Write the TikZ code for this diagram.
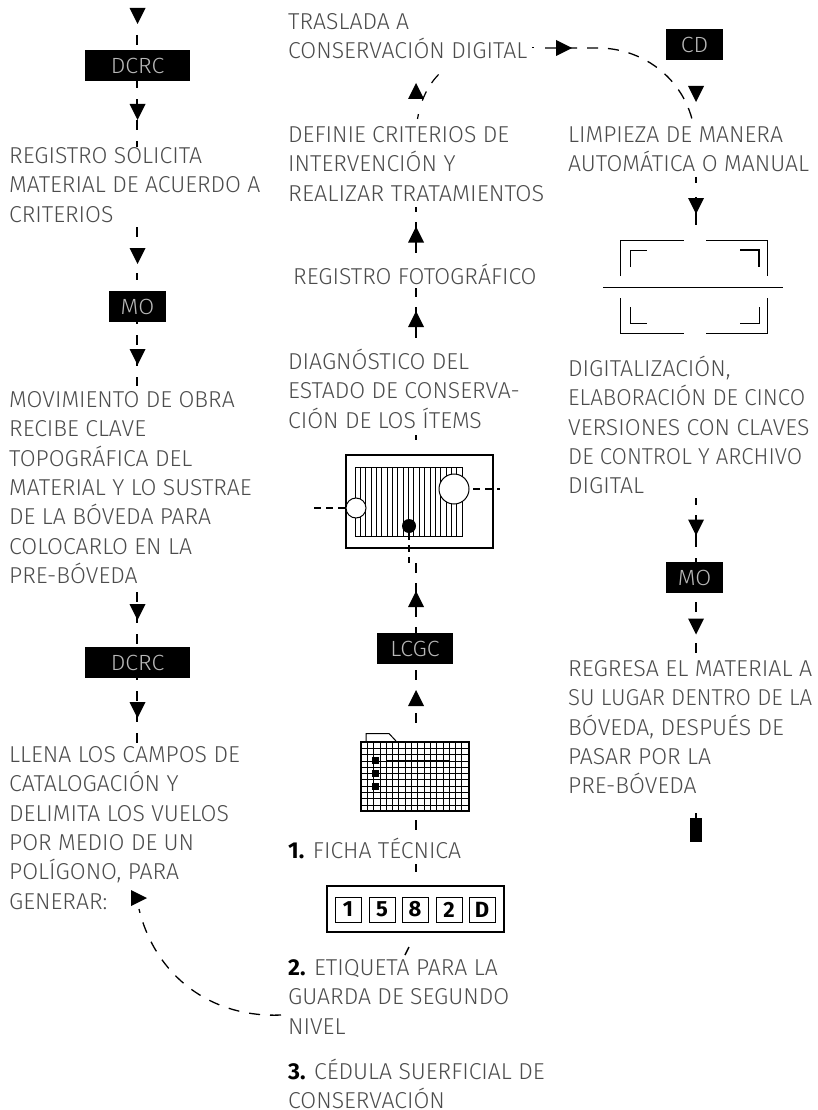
\documentclass[tikz,border=0pt]{standalone}
\usepackage{fontspec}
\usepackage{graphicx}
\setmainfont{Fira Sans}[UprightFont=* Light,BoldFont=* Bold]
\newfontfamily\tagfont{Fira Sans}[UprightFont=* Light,FakeStretch=1.05]
\definecolor{tx}{gray}{0.3}
\newcommand\arrD[3]{\coordinate (#1) at (#2,#3);\fill (#2-8,#3-8) -- (#2+8,#3-8) -- (#2,#3+8) -- cycle;}
\newcommand\arrU[3]{\coordinate (#1) at (#2,#3);\fill (#2-8,#3+8) -- (#2+8,#3+8) -- (#2,#3-8) -- cycle;}
\newcommand\arrR[3]{\coordinate (#1) at (#2,#3);\fill (#2-8,#3-8) -- (#2-8,#3+8) -- (#2+8,#3) -- cycle;}
\newcommand\T{\rule{0pt}{22pt}}
\newcommand\W[2]{\resizebox{#1pt}{\height}{#2}}
\tikzset{
 x=1pt,y=-1pt,
 conn/.style={line width=1.5pt,dash pattern=on 10pt off 11pt},
 solidc/.style={line width=1.5pt},
 curve/.style={line width=1.3pt,dash pattern=on 11pt off 10pt},
 tag/.style={fill=black,text=white!72!black,inner sep=0pt,font=\tagfont\fontsize{22}{24}\selectfont},
 txt/.style={anchor=north west,inner sep=0pt,align=left,text=tx,font=\fontsize{23}{29.4}\selectfont},
 thin1/.style={line width=0.8pt},
}
\begin{document}
\begin{tikzpicture}
\useasboundingbox (0,0) rectangle (817,1110);
% boxes
\node[tag,minimum width=105pt,minimum height=31pt] (dcrcA) at (137.5,65.5) {DCRC};
\node[tag,minimum width=57pt,minimum height=31pt] (moA) at (137.5,306.5) {MO};
\node[tag,minimum width=105pt,minimum height=31pt] (dcrcB) at (137.5,662.5) {DCRC};
\node[tag,minimum width=76pt,minimum height=31pt] (lcgc) at (415,648.5) {LCGC};
\node[tag,minimum width=57pt,minimum height=31pt] (cd) at (694.5,44.5) {CD};
\node[tag,minimum width=57pt,minimum height=31pt] (moB) at (694.5,577.5) {MO};
% arrows
\arrD{a1}{137.5}{16}
\arrD{a2}{137.5}{112}
\arrD{a3}{137.5}{256}
\arrD{a4}{137.5}{357}
\arrD{a5}{137.5}{612}
\arrD{a6}{137.5}{710}
\arrR{a7}{139}{898}
\arrU{b1}{416}{698}
\arrU{b2}{416}{599}
\arrU{b3}{416}{319}
\arrU{b4}{416}{234.5}
\arrU{b5}{416}{91}
\arrR{b6}{564}{48}
\arrD{c1}{696}{94}
\arrD{c2}{696}{206}
\arrD{c3}{696}{527.5}
\arrD{c4}{696}{626.5}
% connectors left
\coordinate (p1) at (137,35);
\draw[conn] (p1) -- (p1 |- dcrcA.north);
\coordinate (p2) at (137,147);
\draw[conn,dash phase=3pt] (dcrcA.south -| p1) -- (p2);
\coordinate (p3) at (137,227); \coordinate (p4) at (137,280);
\draw[line width=1.5pt,dash pattern=on 10pt off 13pt] (p3) -- (p4);
\coordinate (p5) at (137,386);
\draw[conn,dash phase=8pt] (moA.south -| p1) -- (p5);
\coordinate (p6) at (137,592);\coordinate (p7) at (137,644);
\draw[conn] (p6) -- (p7);
\coordinate (p8) at (137,743);
\draw[conn,dash phase=8pt] (dcrcB.south -| p1) -- (p8);
\coordinate (q1) at (281,1015);\coordinate (q2) at (139,909);
\draw[curve] (q1) .. controls (210,1018) and (155,975) .. (q2);
\coordinate (q3) at (409,947);\coordinate (q4) at (405,955);
\draw[solidc] (q3) -- (q4);
% connectors middle
\draw[solidc] (416,864) coordinate (m1) -- (416,872) coordinate (m2);
\draw[solidc] (416,820) coordinate (m3) -- (416,830) coordinate (m4);
\draw[solidc] (416,713) coordinate (m5) -- (416,723) coordinate (m6);
\draw[solidc] (416,670) coordinate (m7) -- (416,680) coordinate (m8);
\draw[solidc] (416,583) coordinate (m9) -- (416,617) coordinate (m10);
\draw[solidc] (416,627) coordinate (m11) -- (m11 |- lcgc.north);
\draw[solidc] (416,563) coordinate (m12) -- (416,573) coordinate (m13);
\draw[solidc] (416,435) coordinate (m14) -- (416,440) coordinate (m15);
\draw[solidc] (416,307) coordinate (m16) -- (416,338) coordinate (m17);
\draw[solidc] (416,288) coordinate (m22) -- (416,297) coordinate (m23);
\draw[solidc] (416,222) coordinate (m18) -- (416,253) coordinate (m19);
\draw[solidc] (416,207) coordinate (m24) -- (416,212) coordinate (m25);
\draw[line width=1.2pt,dash pattern=on 5pt off 14pt on 10pt off 10pt on 11pt off 12pt on 4pt off 20pt] (417.5,119) coordinate (m21) .. controls (421,98) and (430,80) .. (447,67) coordinate (m20);
\draw[line width=.8pt] (532,47.5) coordinate (m26) -- (534,47.5) coordinate (m27);
\draw[curve] (545,48) coordinate (r1) -- (598,48) coordinate (r2) .. controls (640,48) and (680,75) .. (692,119) coordinate (r3);
% connectors right
\draw[solidc] (696,177) coordinate (r4) -- (696,183) coordinate (r5);
\draw[solidc] (696,197) coordinate (r6) -- (696,225) coordinate (r7);
\draw[solidc] (696,498) coordinate (r8) -- (696,505) coordinate (r9);
\draw[solidc] (696,515) coordinate (r10) -- (696,547) coordinate (r11);
\draw[solidc] (696,558) coordinate (r16) -- (r16 |- moB.north);
\draw[solidc] (696,602) coordinate (r12) -- (696,612) coordinate (r13);
\draw[solidc] (696,643) coordinate (r14) -- (696,653) coordinate (r15);
\draw[solidc] (696,813) coordinate (r17) -- (696,818) coordinate (r18);
\fill (690,818) rectangle (702,842);
% text
\node[txt] (t1) at (9,141) {\T REGISTRO SOLICITA\\MATERIAL DE ACUERDO A\\CRITERIOS};
\node[txt] (t2) at (9,385) {\T MOVIMIENTO DE OBRA\\RECIBE CLAVE\\TOPOGRÁFICA DEL\\MATERIAL Y LO SUSTRAE\\DE LA BÓVEDA PARA\\COLOCARLO EN LA\\PRE-BÓVEDA};
\node[txt] (t3) at (9,740) {\T LLENA LOS CAMPOS DE\\CATALOGACIÓN Y\\DELIMITA LOS VUELOS\\POR MEDIO DE UN\\POLÍGONO, PARA\\GENERAR:};
\node[txt] (t4) at (288,7) {\T TRASLADA A\\CONSERVACIÓN DIGITAL};
\node[txt] (t5) at (288,120) {\T DEFINIE CRITERIOS DE\\INTERVENCIÓN Y\\\W{256}{REALIZAR TRATAMIENTOS}};
\node[txt] (t6) at (293,262) {\T REGISTRO FOTOGRÁFICO};
\node[txt] (t7) at (288,347) {\T DIAGNÓSTICO DEL\\ESTADO DE CONSERVA-\\CIÓN DE LOS ÍTEMS};
\node[txt] (t8) at (288,836) {\T\textbf{\textcolor{black}{1.}} FICHA TÉCNICA};
\node[txt] (t9) at (288,953) {\T\textbf{\textcolor{black}{2.}} ETIQUETA PARA LA\\GUARDA DE SEGUNDO\\NIVEL};
\node[txt] (t10) at (288,1057) {\T\textbf{\textcolor{black}{3.}} CÉDULA SUERFICIAL DE\\CONSERVACIÓN};
\node[txt] (t11) at (568,120) {\T LIMPIEZA DE MANERA\\AUTOMÁTICA O MANUAL};
\node[txt] (t12) at (568,354) {\T DIGITALIZACIÓN,\\\W{237}{ELABORACIÓN DE CINCO}\\VERSIONES CON CLAVES\\\W{234}{DE CONTROL Y ARCHIVO}\\DIGITAL};
\node[txt] (t13) at (568,654) {\T\W{244}{REGRESA EL MATERIAL A}\\\W{244}{SU LUGAR DENTRO DE LA}\\BÓVEDA, DESPUÉS DE\\PASAR POR LA\\PRE-BÓVEDA};
% diagnostic icon
\draw[line width=2.2pt] (346,455) rectangle (493,548);
\foreach \i in {0,...,20} \draw[thin1] ({355+\i*5.35},467) -- ({355+\i*5.35},536);
\draw[thin1] (355,467) rectangle (462,536);
\draw[line width=1pt,fill=white] (454,489) circle (15);
\draw[line width=1pt,fill=white] (356,508) circle (10);
\fill (409,526) circle (7);
\draw[line width=1.2pt,dash pattern=on 7pt off 5pt] (473,489) -- (500,489);
\draw[line width=1.2pt,dash pattern=on 7pt off 5pt] (314,508) -- (345,508);
\draw[line width=1.2pt,dash pattern=on 7pt off 5pt] (409,533) -- (409,563);
% folder
\foreach \i in {0,...,16} \draw[line width=.8pt] ({361+\i*6.3},742) -- ({361+\i*6.3},811);
\foreach \i in {0,...,10} \draw[line width=.8pt] (361,{742+\i*6.3}) -- (469,{742+\i*6.3});
\draw[line width=1.8pt] (361,742) rectangle (469,811);
\draw[line width=1pt] (366,741) -- (366,733.5) -- (389,733.5) -- (396,741);
\foreach \y in {757,770,783} {\fill (372,\y) rectangle (379,\y+7); \draw[line width=1.2pt] (386,\y+3.5) -- (450,\y+3.5);}
% label
\draw[line width=1.8pt] (327,886) rectangle (504,932);
\foreach \x/\d in {335/1,369/5,402/8,436/2,469/D} {\draw[line width=1pt] (\x,897) rectangle (\x+26,922); \node[inner sep=0pt,font=\fontsize{22}{22}\bfseries] at (\x+13,909.5) {\d};}
% viewfinder
\draw[line width=1pt] (620,276) -- (620,240) -- (684,240) (706,240) -- (767,240) -- (767,276);
\draw[line width=1pt] (620,298) -- (620,333) -- (684,333) (706,333) -- (767,333) -- (767,298);
\draw[line width=1pt] (603,287) -- (783,287);
\draw[line width=1pt] (630,267) -- (630,250) -- (647,250);
\draw[line width=2pt] (740,250) -- (759,250) -- (759,267);
\draw[line width=1pt] (630,307) -- (630,323) -- (647,323);
\draw[line width=1pt] (740,323) -- (759,323) -- (759,307);
\end{tikzpicture}
\end{document}
